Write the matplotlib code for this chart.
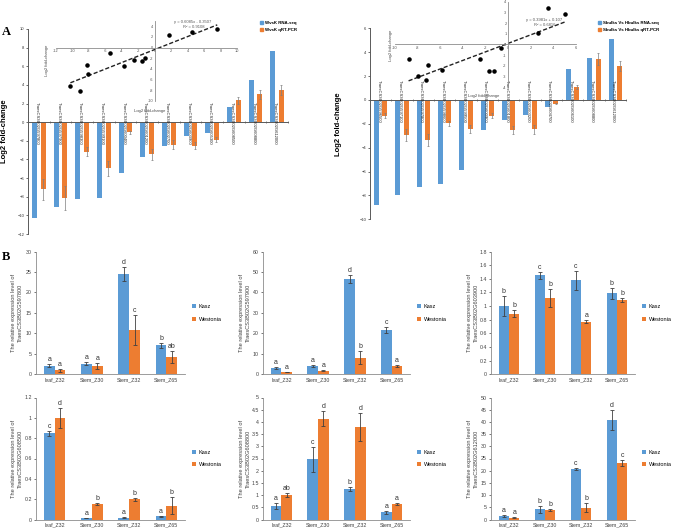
import numpy as np
import matplotlib
matplotlib.use('Agg')
import matplotlib.pyplot as plt
from matplotlib.patches import Patch
from matplotlib.ticker import FuncFormatter

plt.rcParams['font.family'] = ['Liberation Sans', 'DejaVu Sans']

W, H = 676, 532
BLUE = '#5B9BD5'
ORANGE = '#ED7D31'
AXC = '#595959'

# ---------------- Panel A data ----------------
genes_left = ['TraesCS3B02G597800', 'TraesCS3B02G597900', 'TraesCS3B02G598300', 'TraesCS3B02G599100',
              'TraesCS3B02G600400', 'TraesCS3B02G601200', 'TraesCS3B02G602700', 'TraesCS3B02G603900',
              'TraesCS3B02G605300', 'TraesCS3B02G608500', 'TraesCS3B02G608800', 'TraesCS3B02G612000']
wk_rnaseq = [-10.25, -9.1, -8.25, -8.1, -5.4, -3.75, -2.55, -1.52, -1.15, 1.68, 4.53, 7.6]
wk_qpcr = [-7.22, -8.1, -3.18, -4.93, -1.08, -3.45, -2.4, -2.52, -1.86, 2.34, 3.0, 3.47]
wk_qpcr_err = [1.15, 1.3, 0.5, 0.8, 0.15, 0.6, 0.45, 0.4, 0.25, 0.35, 0.5, 0.55]
wk_legend = ['WvsK RNA-seq', 'WvsK qRT-PCR']
wk_fit_text = ['y = 0.6085x - 0.3507', 'R² = 0.9108']
wk_fit = (0.6085, -0.3507)

genes_right = ['TraesCS3B02G596500', 'TraesCS3B02G597100', 'TraesCS3B02G597800', 'TraesCS3B02G598600',
               'TraesCS3B02G599500', 'TraesCS3B02G600900', 'TraesCS3B02G601800', 'TraesCS3B02G603200',
               'TraesCS3B02G604700', 'TraesCS3B02G606100', 'TraesCS3B02G608800', 'TraesCS3B02G612000']
sh_rnaseq = [-8.8, -7.96, -7.29, -7.07, -5.83, -2.5, -1.65, -1.23, -0.6, 2.6, 3.5, 5.07]
sh_qpcr = [-1.32, -2.95, -3.33, -1.95, -2.4, -1.33, -2.52, -2.47, -0.3, 1.06, 3.4, 2.85]
sh_qpcr_err = [0.22, 0.5, 0.5, 0.2, 0.33, 0.2, 0.3, 0.4, 0.05, 0.15, 0.5, 0.4]
sh_legend = ['Sbulks Vs Hbulks RNA-seq', 'Sbulks Vs Hbulks qRT-PCR']
sh_fit_text = ['y = 0.3981x + 0.107', 'R² = 0.6816']
sh_fit = (0.3981, 0.107)

# ---------------- Panel B data ----------------
stages = ['leaf_Z32', 'Stem_Z30', 'Stem_Z32', 'Stem_Z65']
cultivars = ['Kasz', 'Westonia']
b_genes = ['TraesCS3B02G597800', 'TraesCS3B02G597900', 'TraesCS3B02G603900',
           'TraesCS3B02G608500', 'TraesCS3B02G608800', 'TraesCS3B02G612000']
kasz_vals = [[2.1, 2.6, 24.5, 7.1], [3.1, 4.0, 46.5, 21.5], [1.0, 1.45, 1.38, 1.185],
             [0.846, 0.013, 0.016, 0.03], [0.56, 2.47, 1.25, 0.29], [1.36, 4.2, 20.6, 40.8]]
kasz_errs = [[0.3, 0.3, 1.8, 0.6], [0.3, 0.4, 2.0, 1.5], [0.15, 0.05, 0.14, 0.08],
             [0.02, 0.003, 0.004, 0.006], [0.12, 0.52, 0.1, 0.07], [0.4, 1.4, 0.5, 4.2]]
west_vals = [[0.95, 2.05, 10.8, 4.25], [1.1, 1.8, 8.2, 4.1], [0.89, 1.12, 0.77, 1.09],
             [1.0, 0.15, 0.2, 0.137], [0.99, 4.13, 3.79, 0.63], [0.8, 3.8, 4.8, 23.3]]
west_errs = [[0.3, 0.7, 3.7, 1.4], [0.2, 0.3, 3.0, 0.5], [0.05, 0.13, 0.02, 0.03],
             [0.1, 0.01, 0.015, 0.085], [0.08, 0.3, 0.57, 0.03], [0.2, 0.4, 1.8, 1.2]]
kasz_letters = [['a', 'a', 'd', 'b'], ['a', 'a', 'd', 'c'], ['b', 'c', 'c', 'b'],
                ['c', 'a', 'a', 'a'], ['a', 'c', 'b', 'a'], ['a', 'b', 'c', 'd']]
west_letters = [['a', 'a', 'c', 'ab'], ['a', 'a', 'b', 'a'], ['b', 'b', 'a', 'b'],
                ['d', 'b', 'b', 'b'], ['ab', 'd', 'd', 'a'], ['a', 'b', 'b', 'c']]
b_ymax = [30, 60, 1.8, 1.2, 5, 50]
b_ystep = [5, 10, 0.2, 0.2, 0.5, 5]

fig = plt.figure(figsize=(W / 100, H / 100), dpi=100)


def add_ax(left, right, top, bottom):
    return fig.add_axes([left / W, 1 - bottom / H, (right - left) / W, (bottom - top) / H])


def fx(px):
    return px / W


def fy(py):
    return 1 - py / H


def panel_a(pos, rna, qpcr, qerr, genes, ylim, legend_labels, leg_xy):
    ax = add_ax(*pos)
    x = np.arange(len(rna))
    w = 0.24
    ax.bar(x - 0.2, rna, w, color=BLUE, zorder=2)
    ax.bar(x + 0.2, qpcr, w, color=ORANGE, zorder=2)
    ax.errorbar(x + 0.2, qpcr, yerr=qerr, fmt='none', ecolor='#7f7f7f', elinewidth=0.5,
                capsize=0.8, capthick=0.5, zorder=3)
    ax.set_xlim(-0.5, len(rna) - 0.5)
    ax.set_ylim(*ylim)
    ax.set_yticks(np.arange(ylim[0], ylim[1] + 0.1, 2))
    ax.tick_params(axis='y', labelsize=3, length=1.2, width=0.5, pad=1.5, colors='#333333')
    ax.spines['top'].set_visible(False)
    ax.spines['right'].set_visible(False)
    ax.spines['bottom'].set_position(('data', 0))
    for s in ['left', 'bottom']:
        ax.spines[s].set_color(AXC)
        ax.spines[s].set_linewidth(0.7)
    ax.set_xticks(np.arange(-0.5, len(rna), 1))
    ax.set_xticklabels([])
    ax.tick_params(axis='x', length=1.2, width=0.5, direction='inout', colors=AXC)
    for i, g in enumerate(genes):
        ax.text(i, -0.15, g, rotation=270, ha='center', va='top', fontsize=3.0,
                color='#222222', zorder=4, rotation_mode='anchor')
    ax.patch.set_alpha(0)
    handles = [Patch(color=BLUE), Patch(color=ORANGE)]
    fig.legend(handles, legend_labels, loc='upper left', bbox_to_anchor=(fx(leg_xy[0]), fy(leg_xy[1])),
               frameon=False, handlelength=0.6, handleheight=0.6,
               handletextpad=0.5, labelspacing=0.6, borderpad=0, prop={'weight': 'bold', 'size': 3.2})
    return ax


def inset(pos, xs, ys, xlim, ylim, xstep, ystep, fit, fit_text, txt_xy, ylab_xy, xlab_xy):
    ax = add_ax(*pos)
    ax.patch.set_alpha(0)
    ax.set_xlim(*xlim)
    ax.set_ylim(*ylim)
    for s in ['top', 'right']:
        ax.spines[s].set_visible(False)
    ax.spines['left'].set_position(('data', 0))
    ax.spines['bottom'].set_position(('data', 0))
    for s in ['left', 'bottom']:
        ax.spines[s].set_color('#8c8c8c')
        ax.spines[s].set_linewidth(0.6)
    ax.set_xticks(np.arange(xlim[0], xlim[1] + 0.01, xstep))
    ax.set_yticks(np.arange(ylim[0], ylim[1] + 0.01, ystep))
    fmt = FuncFormatter(lambda v, p: f'{v:g}')
    ax.xaxis.set_major_formatter(fmt)
    ax.yaxis.set_major_formatter(fmt)
    ax.tick_params(labelsize=2.8, length=0, pad=1.2, colors='#555555')
    ax.scatter(xs, ys, s=5, color='black', zorder=3)
    xx = np.array([min(xs), max(xs)])
    ax.plot(xx, fit[0] * xx + fit[1], ls=(0, (3, 1.5)), color='#222222', lw=1.0, zorder=2)
    fig.text(fx(txt_xy[0]), fy(txt_xy[1]), fit_text[0], fontsize=3, ha='center', va='center', color='#555555')
    fig.text(fx(txt_xy[0] + 1), fy(txt_xy[1] + 4.5), fit_text[1], fontsize=3, ha='center', va='center', color='#555555')
    fig.text(fx(ylab_xy[0]), fy(ylab_xy[1]), 'Log2 fold-change', fontsize=3, rotation=90,
             ha='center', va='center', color='#444444')
    fig.text(fx(xlab_xy[0]), fy(xlab_xy[1]), 'Log2 fold-change', fontsize=3,
             ha='center', va='center', color='#444444')
    return ax


panel_a((28, 288, 29, 234), wk_rnaseq, wk_qpcr, wk_qpcr_err, genes_left, (-12, 10), wk_legend, (258, 19))
panel_a((370, 626, 28.3, 219.3), sh_rnaseq, sh_qpcr, sh_qpcr_err, genes_right, (-10, 6), sh_legend, (596, 19))

inset((56, 237, 21, 101), wk_rnaseq, wk_qpcr, (-12, 10), (-10, 5), 2, 2, wk_fit, wk_fit_text,
      (193, 22), (47, 60), (150, 111))
inset((395, 576, 1.7, 87.3), sh_rnaseq, sh_qpcr, (-10, 6), (-4, 4), 2, 1, sh_fit, sh_fit_text,
      (544, 20), (391, 45), (484, 96))

fig.text(fx(5), fy(131), 'Log2 fold-change', rotation=90, fontsize=5.5, fontweight='bold',
         ha='center', va='center')
fig.text(fx(339), fy(124), 'Log2 fold-change', rotation=90, fontsize=5.5, fontweight='bold',
         ha='center', va='center')
fig.text(fx(2), fy(35), 'A', fontsize=9, fontweight='bold', family='Liberation Serif')
fig.text(fx(2), fy(260), 'B', fontsize=9, fontweight='bold', family='Liberation Serif')

# ---------------- Panel B ----------------
cols = [(36, 185), (263, 410), (491, 635)]
rows = [(251.5, 374.3), (397.5, 519.5)]
ylab_x = [17, 245, 473]
for k in range(6):
    r, c = divmod(k, 3)
    ax = add_ax(cols[c][0], cols[c][1], rows[r][0], rows[r][1])
    x = np.arange(len(stages))
    w = 0.29
    ax.bar(x - w / 2, kasz_vals[k], w, color=BLUE, label=cultivars[0], zorder=2)
    ax.bar(x + w / 2, west_vals[k], w, color=ORANGE, label=cultivars[1], zorder=2)
    ax.errorbar(x - w / 2, kasz_vals[k], yerr=kasz_errs[k], fmt='none', ecolor='#404040',
                elinewidth=0.6, capsize=1.2, capthick=0.6, zorder=3)
    ax.errorbar(x + w / 2, west_vals[k], yerr=west_errs[k], fmt='none', ecolor='#404040',
                elinewidth=0.6, capsize=1.2, capthick=0.6, zorder=3)
    off = 0.008 * b_ymax[k]
    for i in range(len(stages)):
        ax.text(x[i] - w / 2, kasz_vals[k][i] + kasz_errs[k][i] + off, kasz_letters[k][i],
                ha='center', va='bottom', fontsize=5, color='#333333')
        ax.text(x[i] + w / 2, west_vals[k][i] + west_errs[k][i] + off, west_letters[k][i],
                ha='center', va='bottom', fontsize=5, color='#333333')
    ax.set_xlim(-0.5, len(stages) - 0.5)
    ax.set_ylim(0, b_ymax[k])
    ax.set_yticks(np.arange(0, b_ymax[k] + b_ystep[k] / 2, b_ystep[k]))
    ax.yaxis.set_major_formatter(FuncFormatter(lambda v, p: f'{round(v, 2):g}'))
    ax.set_xticks(x)
    ax.set_xticklabels(stages)
    ax.tick_params(axis='x', labelsize=3.8, length=0, pad=2, colors='#404040')
    ax.tick_params(axis='y', labelsize=3.8, length=1.5, width=0.5, pad=1.5, colors='#404040')
    for s in ['top', 'right']:
        ax.spines[s].set_visible(False)
    for s in ['left', 'bottom']:
        ax.spines[s].set_color('#8c8c8c')
        ax.spines[s].set_linewidth(0.6)
    ax.legend(loc='center left', bbox_to_anchor=(1.03, 0.5), fontsize=4, frameon=False,
              handlelength=0.7, handleheight=0.7, handletextpad=0.5, labelspacing=1.3, borderpad=0)
    yc = (rows[r][0] + rows[r][1]) / 2
    fig.text(fx(ylab_x[c]), fy(yc), 'The relative expression level of\n' + b_genes[k], rotation=90,
             fontsize=4.1, ha='center', va='center', linespacing=1.5, color='#404040')

fig.savefig('out.png', dpi=100)
